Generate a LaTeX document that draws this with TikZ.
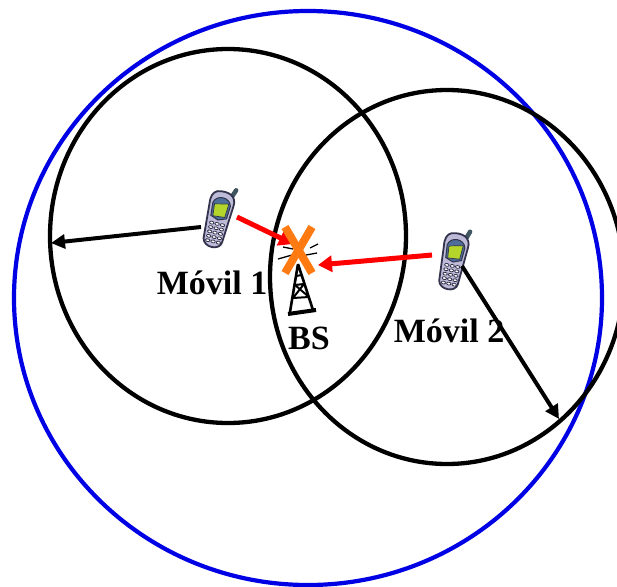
\documentclass[tikz,border=0pt]{standalone}
\usepackage{fontspec}
\setmainfont{Liberation Serif}
\usetikzlibrary{positioning, arrows.meta}
\definecolor{cuerpo}{HTML}{BDBBD8}
\definecolor{borde}{HTML}{33334D}
\definecolor{antena}{HTML}{3F5560}
\definecolor{pantalla}{HTML}{B4D62A}
\definecolor{marco}{HTML}{4C6E98}
\definecolor{naranja}{HTML}{FF7A10}
\tikzset{
    cobertura/.style={line width=4.3pt, draw=black},
    celda/.style={line width=4.2pt, draw=blue!90!black},
    enlace/.style={line width=4pt, -{Triangle[length=14pt,width=14pt]}},
    interf/.style={line width=5pt, red, -{Triangle[length=14pt,width=16pt]}},
    etiqueta/.style={font=\fontsize{34}{34}\selectfont\bfseries, inner sep=0pt},
    movil/.pic={
        \draw[line width=4.5pt, antena, line cap=round] (7,-22) -- (11,-33);
        \filldraw[cuerpo, draw=borde, line width=1.8pt] (-7,-28) .. controls (4,-31) and (13,-27) .. (12,-17)
            -- (9,21) .. controls (8,30) and (-8,30) .. (-10,21) -- (-12,-14) .. controls (-13,-22) and (-11,-26) .. (-7,-28) -- cycle;
        \filldraw[marco, draw=borde, line width=1pt] (-9,-16) .. controls (-7,-25) and (7,-25) .. (9,-16) -- (8,-3) -- (0,0) -- (-8,-3) -- cycle;
        \filldraw[pantalla, draw=borde, line width=.7pt] (-7,-15) -- (7,-18) -- (6,-4) -- (-6,-3) -- cycle;
        \foreach \fila in {4,8.5,13,17.5,22}
            \foreach \col in {-5.5,0,5.5}
                \draw[borde, fill=white, line width=.8pt] (\col,\fila) ellipse (2.2pt and 1.4pt);
    }
}
\begin{document}
\begin{tikzpicture}[x=1pt, y=-1pt]
    \useasboundingbox (0,0) rectangle (617,586);

    % areas de cobertura
    \draw[celda] (308,298) ellipse (294pt and 287pt);
    \draw[cobertura] (228,236) ellipse (178pt and 187pt);
    \draw[cobertura] (447,277) ellipse (177pt and 187pt);

    % moviles
    \pic[rotate=-13] at (218,220) {movil};
    \pic[rotate=-11] at (453,262) {movil};

    % torre
    \coordinate (BS) at (298,264);
    \draw[line width=2.6pt] (BS) -- (290,312) (BS) -- (313,310);
    \draw[line width=2pt] (295,285) -- (304,284) (293,298) -- (309,297)
        (295,285) -- (309,297) (304,284) -- (293,298) (296,276) -- (302,275);
    \draw[line width=4pt] (288,314) -- (316,310);
    \draw[line width=1.3pt] (283,247) -- (293,249) (278,259) -- (292,255)
        (318,244) -- (310,248) (306,255) -- (317,253);

    % extremos de los enlaces
    \coordinate (M1a) at (201,227);
    \coordinate (M1b) at (51,243);
    \coordinate (M1c) at (237,217);
    \coordinate (M1d) at (293,244);
    \coordinate (M2a) at (432,255);
    \coordinate (M2b) at (318,265);
    \coordinate (M2c) at (462,266);
    \coordinate (M2d) at (559,419);

    \draw[enlace] (M1a) -- (M1b);
    \draw[enlace] (M2c) -- (M2d);
    \draw[interf] (M1c) -- (M1d);
    \draw[interf] (M2a) -- (M2b);

    % aspa
    \draw[naranja, line width=8pt] (285,227) -- (312,273);
    \draw[naranja, line width=8pt] (312,227) -- (285,273);

    \node[etiqueta] (Movil1) at (212,283) {Móvil 1};
    \node[etiqueta] (Movil2) at (449,331) {Móvil 2};
    \node[etiqueta] (BSlabel) at (309,338) {BS};
\end{tikzpicture}
\end{document}
